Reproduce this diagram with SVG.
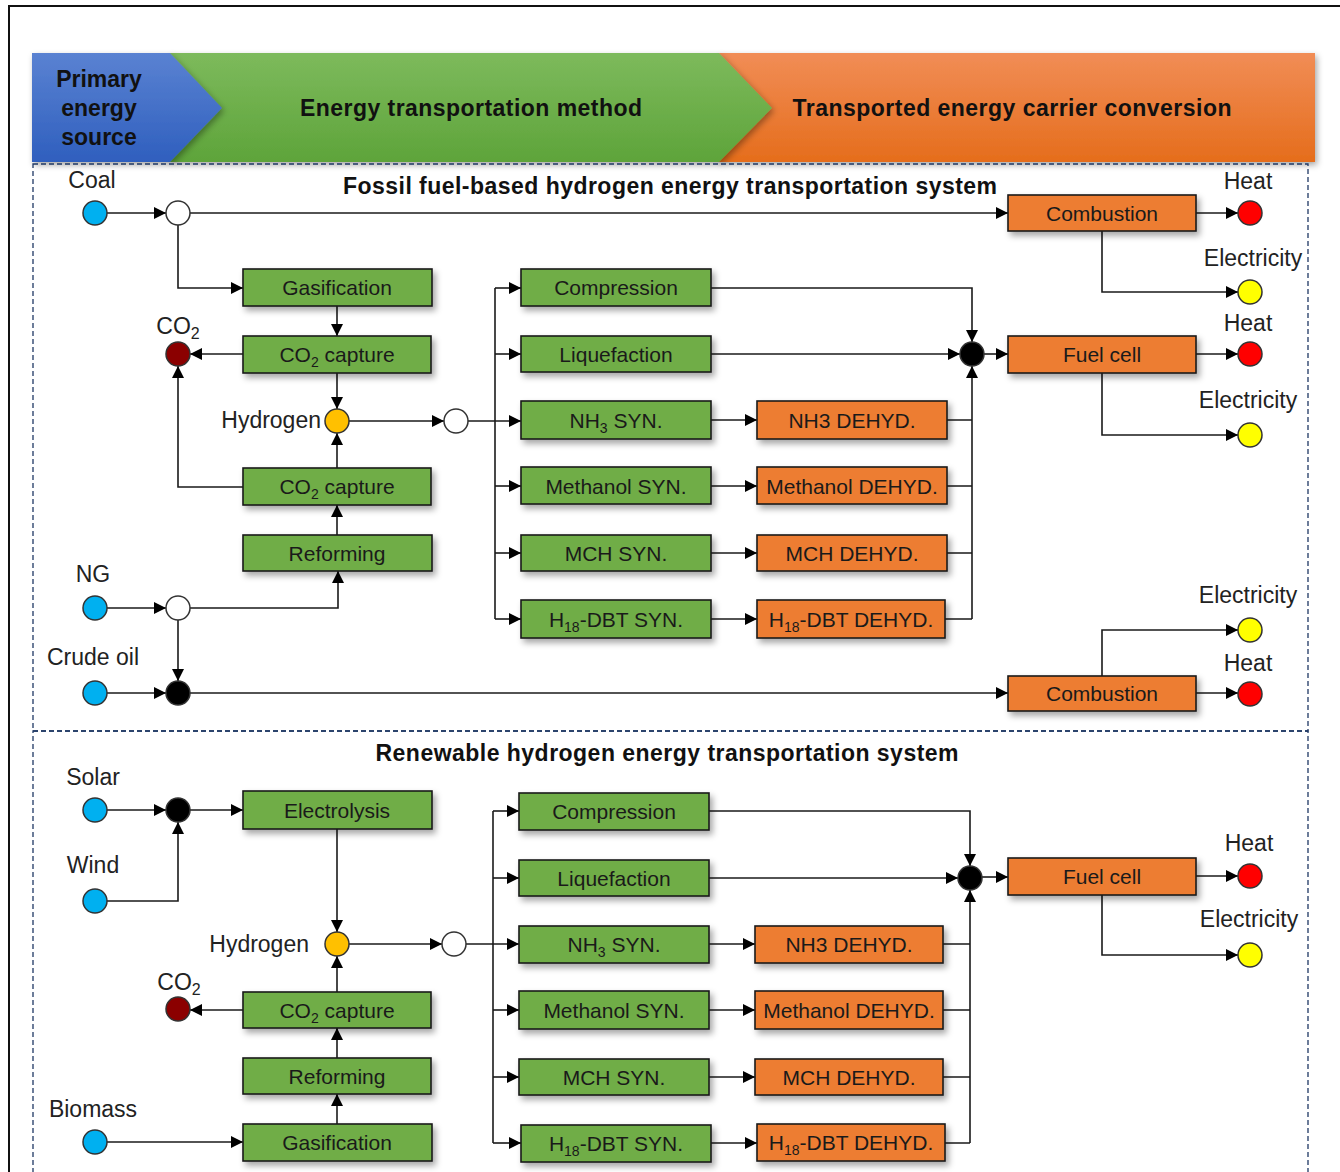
<svg xmlns="http://www.w3.org/2000/svg" width="1340" height="1172" viewBox="0 0 1340 1172">
<defs>
<style>
.bx{stroke:#1a1a1a;stroke-width:1.6;filter:url(#sh)}
.g{fill:#70ad47}
.o{fill:#ed7d31}
.bt{font-family:"Liberation Sans",Arial,sans-serif;font-size:21px;fill:#1a1a1a;text-anchor:middle}
.lb{font-family:"Liberation Sans",Arial,sans-serif;font-size:23px;fill:#222;text-anchor:middle}
.lb.e{text-anchor:end}
.hd{font-family:"Liberation Sans",Arial,sans-serif;font-size:23px;font-weight:bold;fill:#111;text-anchor:middle}
.c{stroke:#333;stroke-width:1.5}
.ln{fill:none;stroke:#1a1a1a;stroke-width:1.6}
.ar{marker-end:url(#arr)}
.dash{fill:none;stroke:#1f3864;stroke-width:1.3;stroke-dasharray:5,3}
</style>
<marker id="arr" markerUnits="userSpaceOnUse" markerWidth="14" markerHeight="14" refX="12" refY="7" orient="auto">
<path d="M0,1 L12,7 L0,13 z" fill="#000"/>
</marker>
<filter id="sh" x="-10%" y="-30%" width="125%" height="180%">
<feDropShadow dx="3" dy="4" stdDeviation="3" flood-color="#000" flood-opacity="0.35"/>
</filter>
<filter id="hsh" x="-5%" y="-10%" width="110%" height="130%">
<feDropShadow dx="2" dy="3" stdDeviation="3" flood-color="#000" flood-opacity="0.35"/>
</filter>
<linearGradient id="gb" x1="0" y1="0" x2="0" y2="1"><stop offset="0" stop-color="#5a82d2"/><stop offset="1" stop-color="#2f5fbe"/></linearGradient>
<linearGradient id="gg" x1="0" y1="0" x2="0" y2="1"><stop offset="0" stop-color="#7dba5c"/><stop offset="1" stop-color="#5ea43a"/></linearGradient>
<linearGradient id="go" x1="0" y1="0" x2="0" y2="1"><stop offset="0" stop-color="#f18d56"/><stop offset="1" stop-color="#e56d1c"/></linearGradient>
</defs>
<rect x="0" y="0" width="1340" height="1172" fill="#fff"/>
<rect x="9" y="6" width="1345" height="1200" fill="none" stroke="#111" stroke-width="2"/>

<g id="header">
<polygon points="719,53 1315,53 1315,162 719,162" fill="url(#go)" filter="url(#hsh)"/>
<polygon points="170,53 719,53 772,108 719,162 170,162" fill="url(#gg)" filter="url(#hsh)"/>
<polygon points="32,53 170,53 222,108 170,162 32,162" fill="url(#gb)" filter="url(#hsh)"/>
<text class="hd" x="99" y="87">Primary</text>
<text class="hd" x="99" y="116">energy</text>
<text class="hd" x="99" y="145">source</text>
<text class="hd" x="471" y="116" textLength="342">Energy transportation method</text>
<text class="hd" x="1012" y="116" textLength="439">Transported energy carrier conversion</text>
</g>

<g id="sections">
<rect class="dash" x="33" y="164" width="1275" height="567"/>
<rect class="dash" x="33" y="731" width="1275" height="470"/>
<text class="hd" x="670" y="194" textLength="654">Fossil fuel-based hydrogen energy transportation system</text>
<text class="hd" x="667" y="761" textLength="583">Renewable hydrogen energy transportation system</text>
</g>

<g id="connectors">
<path class="ln ar" d="M107,213 H166"/>
<path class="ln ar" d="M190,213 H1008"/>
<path class="ln ar" d="M178,225 V288 H243"/>
<path class="ln ar" d="M337,306 V336"/>
<path class="ln ar" d="M243,354 H190"/>
<path class="ln ar" d="M337,373 V409"/>
<path class="ln ar" d="M337,468 V433"/>
<path class="ln ar" d="M243,487 H178 V366"/>
<path class="ln ar" d="M337,535 V505"/>
<path class="ln ar" d="M107,608 H166"/>
<path class="ln ar" d="M190,608 H338 V571"/>
<path class="ln ar" d="M178,620 V681"/>
<path class="ln ar" d="M107,693 H166"/>
<path class="ln ar" d="M190,693 H1008"/>
<path class="ln ar" d="M349,421 H444"/>
<path class="ln ar" d="M468,421 H521"/>
<path class="ln" d="M495,288 V619"/>
<path class="ln ar" d="M495,288 H521"/>
<path class="ln ar" d="M495,354 H521"/>
<path class="ln ar" d="M495,486 H521"/>
<path class="ln ar" d="M495,553 H521"/>
<path class="ln ar" d="M495,619 H521"/>
<path class="ln ar" d="M711,420 H757"/>
<path class="ln ar" d="M711,486 H757"/>
<path class="ln ar" d="M711,553 H757"/>
<path class="ln ar" d="M711,619 H757"/>
<path class="ln ar" d="M711,288 H972 V342"/>
<path class="ln ar" d="M711,354 H960"/>
<path class="ln" d="M947,420 H972 M947,486 H972 M947,553 H972 M945,619 H972"/>
<path class="ln ar" d="M972,619 V366"/>
<path class="ln ar" d="M984,354 H1008"/>
<path class="ln ar" d="M1196,213 H1238"/>
<path class="ln ar" d="M1102,231 V292 H1238"/>
<path class="ln ar" d="M1196,354 H1238"/>
<path class="ln ar" d="M1102,373 V435 H1238"/>
<path class="ln ar" d="M1196,693 H1238"/>
<path class="ln ar" d="M1102,676 V630 H1238"/>
<path class="ln ar" d="M107,810 H166"/>
<path class="ln ar" d="M190,810 H243"/>
<path class="ln ar" d="M107,901 H178 V822"/>
<path class="ln ar" d="M337,829 V932"/>
<path class="ln ar" d="M337,992 V956"/>
<path class="ln ar" d="M243,1010 H190"/>
<path class="ln ar" d="M337,1058 V1028"/>
<path class="ln ar" d="M337,1124 V1094"/>
<path class="ln ar" d="M107,1142 H243"/>
<path class="ln ar" d="M349,944 H442"/>
<path class="ln ar" d="M466,944 H519"/>
<path class="ln" d="M493,811 V1143"/>
<path class="ln ar" d="M493,811 H519"/>
<path class="ln ar" d="M493,878 H519"/>
<path class="ln ar" d="M493,1010 H519"/>
<path class="ln ar" d="M493,1077 H519"/>
<path class="ln ar" d="M493,1143 H521"/>
<path class="ln ar" d="M709,944 H755"/>
<path class="ln ar" d="M709,1010 H755"/>
<path class="ln ar" d="M709,1077 H755"/>
<path class="ln ar" d="M711,1143 H757"/>
<path class="ln ar" d="M709,811 H970 V866"/>
<path class="ln ar" d="M709,878 H958"/>
<path class="ln" d="M943,944 H970 M943,1010 H970 M943,1077 H970 M945,1143 H970"/>
<path class="ln ar" d="M970,1143 V890"/>
<path class="ln ar" d="M982,877 H1008"/>
<path class="ln ar" d="M1196,876 H1238"/>
<path class="ln ar" d="M1102,895 V955 H1238"/>
</g>

<g id="coal"><circle class="c" cx="95" cy="213" r="12" fill="#00b0f0"/><text class="lb" x="92" y="188">Coal</text></g>
<g id="split1"><circle class="c" cx="178" cy="213" r="12" fill="#fff"/></g>
<g id="gasif1"><rect class="bx g" x="243" y="269" width="189" height="37"/><text class="bt" x="337" y="295">Gasification</text></g>
<g id="cap1"><rect class="bx g" x="243" y="336" width="188" height="37"/><text class="bt" x="337" y="362">CO<tspan font-size="14" dy="5">2</tspan><tspan dy="-5"> capture</tspan></text></g>
<g id="co2a"><circle class="c" cx="178" cy="354" r="12" fill="#8b0000"/><text class="lb" x="178" y="334">CO<tspan font-size="16" dy="5">2</tspan></text></g>
<g id="h2a"><circle class="c" cx="337" cy="421" r="12" fill="#ffc000"/><text class="lb e" x="321" y="428">Hydrogen</text></g>
<g id="split2"><circle class="c" cx="456" cy="421" r="12" fill="#fff"/></g>
<g id="cap2"><rect class="bx g" x="243" y="468" width="188" height="37"/><text class="bt" x="337" y="494">CO<tspan font-size="14" dy="5">2</tspan><tspan dy="-5"> capture</tspan></text></g>
<g id="reform1"><rect class="bx g" x="243" y="535" width="189" height="36"/><text class="bt" x="337" y="561">Reforming</text></g>
<g id="ng"><circle class="c" cx="95" cy="608" r="12" fill="#00b0f0"/><text class="lb" x="93" y="582">NG</text></g>
<g id="split3"><circle class="c" cx="178" cy="608" r="12" fill="#fff"/></g>
<g id="crude"><circle class="c" cx="95" cy="693" r="12" fill="#00b0f0"/><text class="lb" x="93" y="665">Crude oil</text></g>
<g id="merge1"><circle class="c" cx="178" cy="693" r="12" fill="#000"/></g>

<g id="comp1"><rect class="bx g" x="521" y="269" width="190" height="37"/><text class="bt" x="616" y="295">Compression</text></g>
<g id="liq1"><rect class="bx g" x="521" y="336" width="190" height="36"/><text class="bt" x="616" y="362">Liquefaction</text></g>
<g id="nh3s1"><rect class="bx g" x="521" y="401" width="190" height="38"/><text class="bt" x="616" y="428">NH<tspan font-size="14" dy="5">3</tspan><tspan dy="-5"> SYN.</tspan></text></g>
<g id="mes1"><rect class="bx g" x="521" y="467" width="190" height="37"/><text class="bt" x="616" y="494">Methanol SYN.</text></g>
<g id="mchs1"><rect class="bx g" x="521" y="535" width="190" height="36"/><text class="bt" x="616" y="561">MCH SYN.</text></g>
<g id="dbts1"><rect class="bx g" x="521" y="600" width="190" height="38"/><text class="bt" x="616" y="627">H<tspan font-size="14" dy="5">18</tspan><tspan dy="-5">-DBT SYN.</tspan></text></g>
<g id="nh3d1"><rect class="bx o" x="757" y="401" width="190" height="38"/><text class="bt" x="852" y="428">NH3 DEHYD.</text></g>
<g id="med1"><rect class="bx o" x="757" y="467" width="190" height="37"/><text class="bt" x="852" y="494">Methanol DEHYD.</text></g>
<g id="mchd1"><rect class="bx o" x="757" y="535" width="190" height="36"/><text class="bt" x="852" y="561">MCH DEHYD.</text></g>
<g id="dbtd1"><rect class="bx o" x="757" y="600" width="188" height="38"/><text class="bt" x="851" y="627">H<tspan font-size="14" dy="5">18</tspan><tspan dy="-5">-DBT DEHYD.</tspan></text></g>
<g id="merge2"><circle class="c" cx="972" cy="354" r="12" fill="#000"/></g>

<g id="comb1"><rect class="bx o" x="1008" y="195" width="188" height="36"/><text class="bt" x="1102" y="221">Combustion</text></g>
<g id="heat1"><circle class="c" cx="1250" cy="213" r="12" fill="#ff0000"/><text class="lb" x="1248" y="189">Heat</text></g>
<g id="elec1"><circle class="c" cx="1250" cy="292" r="12" fill="#ffff00"/><text class="lb" x="1253" y="266">Electricity</text></g>
<g id="fc1"><rect class="bx o" x="1008" y="336" width="188" height="37"/><text class="bt" x="1102" y="362">Fuel cell</text></g>
<g id="heat2"><circle class="c" cx="1250" cy="354" r="12" fill="#ff0000"/><text class="lb" x="1248" y="331">Heat</text></g>
<g id="elec2"><circle class="c" cx="1250" cy="435" r="12" fill="#ffff00"/><text class="lb" x="1248" y="408">Electricity</text></g>
<g id="comb2"><rect class="bx o" x="1008" y="676" width="188" height="35"/><text class="bt" x="1102" y="701">Combustion</text></g>
<g id="elec3"><circle class="c" cx="1250" cy="630" r="12" fill="#ffff00"/><text class="lb" x="1248" y="603">Electricity</text></g>
<g id="heat3"><circle class="c" cx="1250" cy="694" r="12" fill="#ff0000"/><text class="lb" x="1248" y="671">Heat</text></g>

<g id="solar"><circle class="c" cx="95" cy="810" r="12" fill="#00b0f0"/><text class="lb" x="93" y="785">Solar</text></g>
<g id="wind"><circle class="c" cx="95" cy="901" r="12" fill="#00b0f0"/><text class="lb" x="93" y="873">Wind</text></g>
<g id="merge3"><circle class="c" cx="178" cy="810" r="12" fill="#000"/></g>
<g id="elys"><rect class="bx g" x="243" y="791" width="189" height="38"/><text class="bt" x="337" y="818">Electrolysis</text></g>
<g id="h2b"><circle class="c" cx="337" cy="944" r="12" fill="#ffc000"/><text class="lb e" x="309" y="952">Hydrogen</text></g>
<g id="split4"><circle class="c" cx="454" cy="944" r="12" fill="#fff"/></g>
<g id="co2b"><circle class="c" cx="178" cy="1009" r="12" fill="#8b0000"/><text class="lb" x="179" y="990">CO<tspan font-size="16" dy="5">2</tspan></text></g>
<g id="cap3"><rect class="bx g" x="243" y="992" width="188" height="36"/><text class="bt" x="337" y="1018">CO<tspan font-size="14" dy="5">2</tspan><tspan dy="-5"> capture</tspan></text></g>
<g id="reform2"><rect class="bx g" x="243" y="1058" width="188" height="36"/><text class="bt" x="337" y="1084">Reforming</text></g>
<g id="gasif2"><rect class="bx g" x="243" y="1124" width="189" height="37"/><text class="bt" x="337" y="1150">Gasification</text></g>
<g id="biomass"><circle class="c" cx="95" cy="1142" r="12" fill="#00b0f0"/><text class="lb" x="93" y="1117">Biomass</text></g>

<g id="comp2"><rect class="bx g" x="519" y="793" width="190" height="37"/><text class="bt" x="614" y="819">Compression</text></g>
<g id="liq2"><rect class="bx g" x="519" y="860" width="190" height="36"/><text class="bt" x="614" y="886">Liquefaction</text></g>
<g id="nh3s2"><rect class="bx g" x="519" y="926" width="190" height="37"/><text class="bt" x="614" y="952">NH<tspan font-size="14" dy="5">3</tspan><tspan dy="-5"> SYN.</tspan></text></g>
<g id="mes2"><rect class="bx g" x="519" y="991" width="190" height="38"/><text class="bt" x="614" y="1018">Methanol SYN.</text></g>
<g id="mchs2"><rect class="bx g" x="519" y="1059" width="190" height="36"/><text class="bt" x="614" y="1085">MCH SYN.</text></g>
<g id="dbts2"><rect class="bx g" x="521" y="1125" width="190" height="37"/><text class="bt" x="616" y="1151">H<tspan font-size="14" dy="5">18</tspan><tspan dy="-5">-DBT SYN.</tspan></text></g>
<g id="nh3d2"><rect class="bx o" x="755" y="926" width="188" height="37"/><text class="bt" x="849" y="952">NH3 DEHYD.</text></g>
<g id="med2"><rect class="bx o" x="755" y="991" width="188" height="38"/><text class="bt" x="849" y="1018">Methanol DEHYD.</text></g>
<g id="mchd2"><rect class="bx o" x="755" y="1059" width="188" height="36"/><text class="bt" x="849" y="1085">MCH DEHYD.</text></g>
<g id="dbtd2"><rect class="bx o" x="757" y="1124" width="188" height="37"/><text class="bt" x="851" y="1150">H<tspan font-size="14" dy="5">18</tspan><tspan dy="-5">-DBT DEHYD.</tspan></text></g>
<g id="merge4"><circle class="c" cx="970" cy="878" r="12" fill="#000"/></g>
<g id="fc2"><rect class="bx o" x="1008" y="858" width="188" height="37"/><text class="bt" x="1102" y="884">Fuel cell</text></g>
<g id="heat4"><circle class="c" cx="1250" cy="876" r="12" fill="#ff0000"/><text class="lb" x="1249" y="851">Heat</text></g>
<g id="elec4"><circle class="c" cx="1250" cy="955" r="12" fill="#ffff00"/><text class="lb" x="1249" y="927">Electricity</text></g>
</svg>
